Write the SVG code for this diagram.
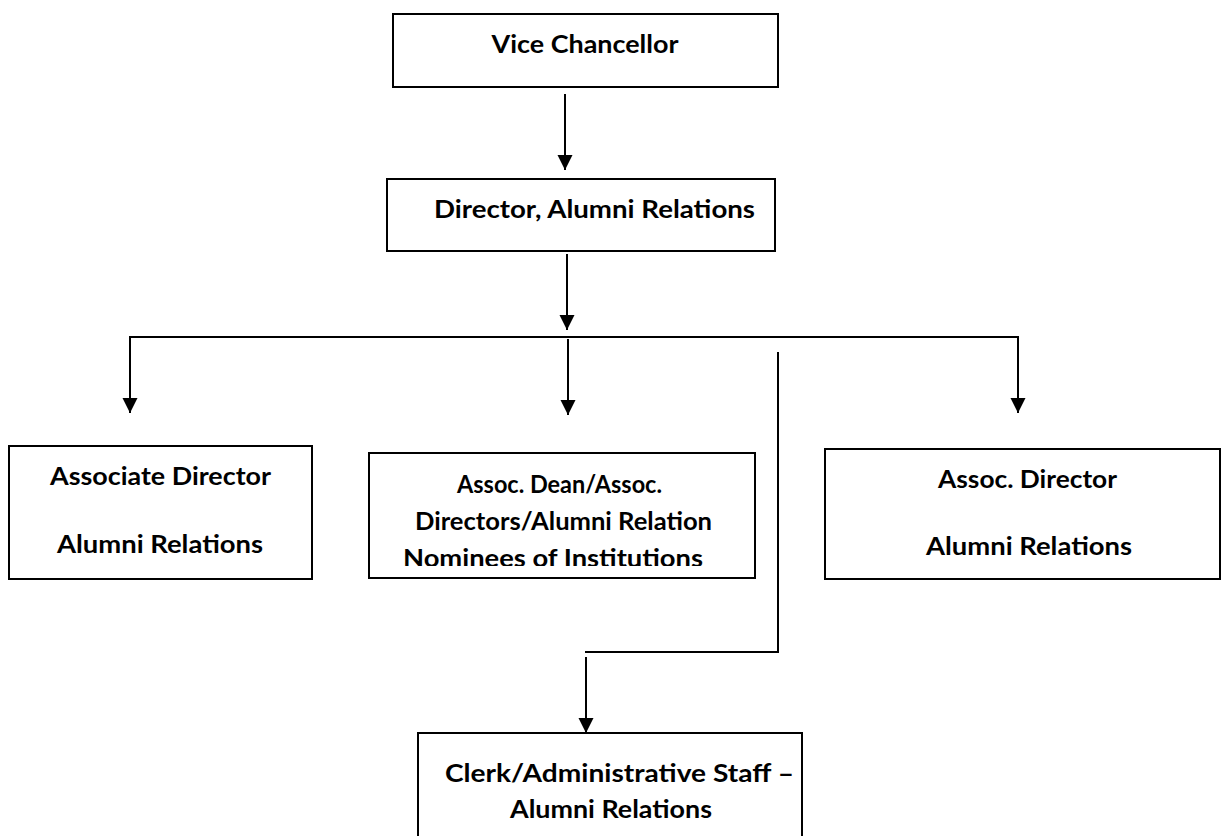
<svg xmlns="http://www.w3.org/2000/svg" width="1222" height="836" viewBox="0 0 1222 836">
<style>
.box{fill:#fff;stroke:#000;stroke-width:2}
.lbl{font-family:Lato,"Open Sans","Liberation Sans",sans-serif;font-weight:bold;font-size:25px;fill:#000;text-anchor:middle}
.con{fill:none;stroke:#000;stroke-width:2}
</style>
<defs>
<marker id="arr" markerUnits="userSpaceOnUse" markerWidth="16" markerHeight="16" viewBox="0 0 16 16" refX="15" refY="8" orient="auto">
<path d="M0,0.5 L15,8 L0,15.5 Z" fill="#000"/>
</marker>
<clipPath id="midclip"><rect x="369" y="453" width="386" height="113"/></clipPath>
</defs>
<rect width="1222" height="836" fill="#fff"/>
<g id="connectors">
<line class="con" x1="565" y1="94" x2="565" y2="170" marker-end="url(#arr)"/>
<line class="con" x1="567" y1="254" x2="567" y2="330" marker-end="url(#arr)"/>
<line class="con" x1="129" y1="337" x2="1019" y2="337"/>
<line class="con" x1="130" y1="336" x2="130" y2="413" marker-end="url(#arr)"/>
<line class="con" x1="568" y1="339" x2="568" y2="415" marker-end="url(#arr)"/>
<line class="con" x1="1018" y1="336" x2="1018" y2="413" marker-end="url(#arr)"/>
<polyline class="con" points="778,352 778,652 585,652"/>
<line class="con" x1="586" y1="657" x2="586" y2="733" marker-end="url(#arr)"/>
</g>
<g id="vice-chancellor">
<rect class="box" x="393" y="14" width="385" height="73"/>
<text class="lbl" x="585" y="53" textLength="187" lengthAdjust="spacingAndGlyphs">Vice Chancellor</text>
</g>
<g id="director">
<rect class="box" x="387" y="179" width="388" height="72"/>
<text class="lbl" x="594.5" y="218" textLength="321" lengthAdjust="spacingAndGlyphs">Director, Alumni Relations</text>
</g>
<g id="associate-director">
<rect class="box" x="9" y="446" width="303" height="133"/>
<text class="lbl" x="160.5" y="485" textLength="221" lengthAdjust="spacingAndGlyphs">Associate Director</text>
<text class="lbl" x="160" y="553" textLength="206" lengthAdjust="spacingAndGlyphs">Alumni Relations</text>
</g>
<g id="assoc-dean">
<rect class="box" x="369" y="453" width="386" height="125"/>
<g clip-path="url(#midclip)">
<text class="lbl" x="559.5" y="493" textLength="205" lengthAdjust="spacingAndGlyphs">Assoc. Dean/Assoc.</text>
<text class="lbl" x="563.5" y="530" textLength="297" lengthAdjust="spacingAndGlyphs">Directors/Alumni Relation</text>
<text class="lbl" x="553" y="567" textLength="300" lengthAdjust="spacingAndGlyphs">Nominees of Institutions</text>
</g>
</g>
<g id="assoc-director">
<rect class="box" x="825" y="449" width="395" height="130"/>
<text class="lbl" x="1027.5" y="488" textLength="179" lengthAdjust="spacingAndGlyphs">Assoc. Director</text>
<text class="lbl" x="1029" y="555" textLength="206" lengthAdjust="spacingAndGlyphs">Alumni Relations</text>
</g>
<g id="clerk">
<rect class="box" x="418" y="733" width="384" height="120"/>
<text class="lbl" x="619.5" y="782" textLength="349" lengthAdjust="spacingAndGlyphs">Clerk/Administrative Staff –</text>
<text class="lbl" x="611" y="818" textLength="202" lengthAdjust="spacingAndGlyphs">Alumni Relations</text>
</g>
</svg>
